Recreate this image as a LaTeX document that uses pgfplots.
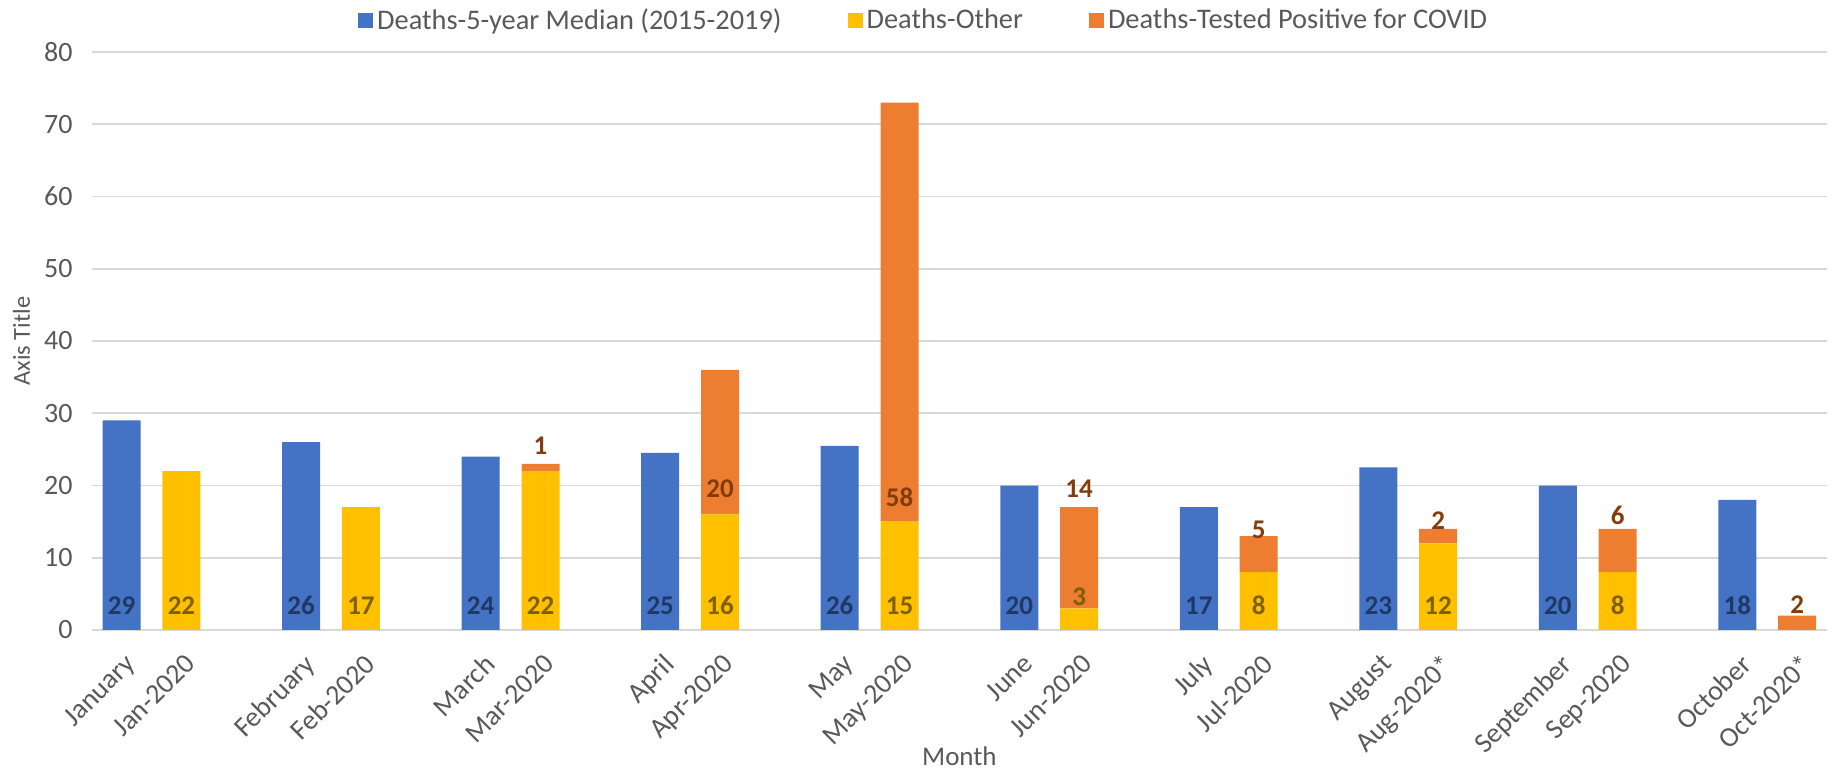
\documentclass[border=0pt]{standalone}
\usepackage{pgfplots}
\usepackage{pgfplotstable}
\pgfplotsset{compat=1.18}
\usepackage{fontspec}
\setmainfont{Carlito}
\definecolor{cblue}{HTML}{4472C4}
\definecolor{cyellow}{HTML}{FFC000}
\definecolor{corange}{HTML}{ED7D31}
\definecolor{lblue}{HTML}{203864}
\definecolor{lyellow}{HTML}{7F6000}
\definecolor{lorange}{HTML}{843C0C}
\definecolor{txt}{HTML}{595959}
\definecolor{gridc}{HTML}{D9D9D9}

\pgfplotstableread{
x blue other covid
0 29 0 0
1 0 22 0
3 26 0 0
4 0 17 0
6 24 0 0
7 0 22 1
9 24.5 0 0
10 0 16 20
12 25.5 0 0
13 0 15 58
15 20 0 0
16 0 3 14
18 17 0 0
19 0 8 5
21 22.5 0 0
22 0 12 2
24 20 0 0
25 0 8 6
27 18 0 0
28 0 0 2
}\bars

\pgfplotstableread{
x y label
0 3.4 29
3 3.4 26
6 3.4 24
9 3.4 25
12 3.4 26
15 3.4 20
18 3.4 17
21 3.4 23
24 3.4 20
27 3.4 18
}\bluelabels

\pgfplotstableread{
x y label
1 3.4 22
4 3.4 17
7 3.4 22
10 3.4 16
13 3.4 15
16 4.6 3
19 3.4 8
22 3.4 12
25 3.4 8
}\otherlabels

\pgfplotstableread{
x y label
7 25.5 1
10 19.5 20
13 18.4 58
16 19.6 14
19 13.9 5
22 15.2 2
25 15.9 6
28 3.46 2
}\covidlabels

\pgfplotsset{
  base/.style={
    scale only axis, width=867.7pt, height=289pt,
    xmin=-0.5, xmax=28.5, ymin=0, ymax=80,
    at={(45.85pt,70pt)}, anchor=south west,
  },
  lbl/.style={
    draw=none, mark=none, nodes near coords, point meta=explicit symbolic,
    every node near coord/.append style={anchor=center, inner sep=0pt,
      font=\fontsize{13.5}{16}\selectfont\bfseries, text=#1},
  },
}

\begin{document}
\begin{tikzpicture}
\useasboundingbox (0,0) rectangle (919.5pt,385pt);
\begin{axis}[base,
  ybar stacked, bar width=0.635,
  xtick={0,1,3,4,6,7,9,10,12,13,15,16,18,19,21,22,24,25,27,28},
  xticklabels={January,Jan-2020,February,Feb-2020,March,Mar-2020,April,Apr-2020,May,May-2020,June,Jun-2020,July,Jul-2020,August,Aug-2020*,September,Sep-2020,October,Oct-2020*},
  ytick={0,10,...,80},
  /pgf/number format/assume math mode=true,
  ymajorgrids, grid style={gridc, line width=0.9pt},
  axis x line*=bottom, axis y line*=left,
  x axis line style={gridc, line width=0.9pt, -},
  y axis line style={draw=none},
  major tick length=0pt,
  tick label style={font=\fontsize{14}{16}\selectfont, text=txt},
  xticklabel style={xshift=1pt, yshift=-11pt, rotate=45, anchor=north east, inner sep=0pt},
  yticklabel style={xshift=-6pt},
  xlabel={Month}, ylabel={Axis Title},
  every axis x label/.style={at={(axis description cs:0.5,-0.219)}, anchor=center,
     font=\fontsize{13.5}{16}\selectfont, text=txt},
  every axis y label/.style={at={(axis description cs:-0.0404,0.5)}, rotate=90, anchor=center,
     font=\fontsize{12.2}{15}\selectfont, text=txt},
  legend style={at={(0.480,1.055)}, anchor=center, draw=none, fill=none,
    legend columns=-1, font=\fontsize{14.2}{17}\selectfont, text=txt,
    /tikz/every even column/.append style={column sep=31pt}},
  legend image code/.code={\fill[#1] (0pt,-3.75pt) rectangle (7.5pt,3.75pt);},
]
\addplot[fill=cblue, draw=none] table[x=x, y=blue] {\bars};
\addplot[fill=cyellow, draw=none] table[x=x, y=other] {\bars};
\addplot[fill=corange, draw=none] table[x=x, y=covid] {\bars};
\legend{Deaths-5-year Median (2015-2019), Deaths-Other, Deaths-Tested Positive for COVID}
\end{axis}
\begin{axis}[base, hide axis, clip=false]
\addplot[lbl=lblue] table[x=x, y=y, meta=label] {\bluelabels};
\addplot[lbl=lyellow] table[x=x, y=y, meta=label] {\otherlabels};
\addplot[lbl=lorange] table[x=x, y=y, meta=label] {\covidlabels};
\end{axis}
\end{tikzpicture}
\end{document}
